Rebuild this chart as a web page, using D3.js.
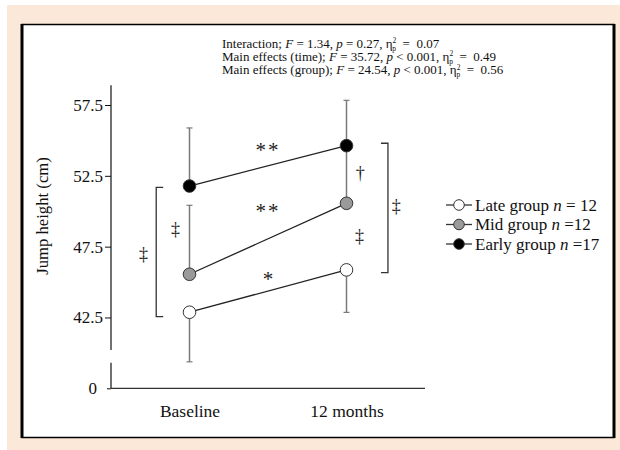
<!DOCTYPE html>
<html>
<head>
<meta charset="utf-8">
<script src="https://cdn.jsdelivr.net/npm/d3@7"></script>
<style>
  body { margin: 0; background: #fff; }
  svg text { font-family: "Liberation Serif", "Times New Roman", serif; fill: #111; }
</style>
</head>
<body>
<div id="chart"></div>
<script>
//Datos
const times = ['Baseline', '12 months'];
const groups = ['Late group', 'Mid group', 'Early group'];
const groupN = ['= 12', '=12', '=17'];
const lateMean = [42.87, 45.86], lateSD = [3.5, 3.0];
const midMean = [45.55, 50.56], midSD = [4.87, 4.3];
const earlyMean = [51.78, 54.63], earlySD = [4.1, 3.2];
const yTicks = [37.5, 42.5, 47.5, 52.5, 57.5];
const yTickLabels = ['0', '42.5', '47.5', '52.5', '57.5'];

//Anotaciones: f = posición relativa entre baseline (0) y 12 meses (1)
const marks = [
  {t: '**', f: 0.5, v: 54.3},
  {t: '**', f: 0.5, v: 50.0},
  {t: '*', f: 0.5, v: 45.25},
  {t: '‡', f: -0.293, v: 47.0},
  {t: '‡', f: -0.089, v: 48.75},
  {t: '†', f: 1.087, v: 52.7},
  {t: '‡', f: 1.083, v: 48.25},
  {t: '‡', f: 1.317, v: 50.35}
];
const brackets = [
  {f: -0.212, from: 51.69, to: 42.56, dir: 1},
  {f: 1.264, from: 54.8, to: 45.66, dir: -1}
];

const W = 620, H = 450;
const svg = d3.select('#chart').append('svg').attr('width', W).attr('height', H);

//Fondo y marco
svg.append('rect').attr('x', 7).attr('y', 5).attr('width', W - 7).attr('height', H - 5).attr('fill', '#FCE8D9');
svg.append('rect').attr('x', 22).attr('y', 24.5).attr('width', 592).attr('height', 413)
  .attr('fill', '#fff').attr('stroke', '#000').attr('stroke-width', 1.5);
svg.append('line').attr('x1', 22).attr('x2', 22).attr('y1', 24).attr('y2', 438).attr('stroke', '#000').attr('stroke-width', 3);
svg.append('line').attr('x1', 614).attr('x2', 614).attr('y1', 24).attr('y2', 438).attr('stroke', '#000').attr('stroke-width', 3);

//Escalas
const x = d3.scalePoint().domain(times).range([111, 425]).padding(0.5);
const y = d3.scaleLinear().domain([37.5, 57.5]).range([388.3, 105]);
const xf = f => x(times[0]) + f * (x(times[1]) - x(times[0]));

//Eje Y (con corte)
const yAxis = svg.append('g').attr('transform', 'translate(111,0)')
  .call(d3.axisLeft(y).tickValues(yTicks).tickSize(6).tickPadding(2)
    .tickFormat((d, i) => yTickLabels[i]));
yAxis.select('.domain').remove();
yAxis.selectAll('.tick line').attr('stroke', '#111');
yAxis.selectAll('.tick text').attr('font-size', 17).attr('font-family', '"Liberation Serif", serif').attr('fill', '#111');
yAxis.selectAll('.tick').filter(d => d === 37.5).select('text').attr('x', -14);
yAxis.selectAll('.tick').filter(d => d === 37.5).select('line').attr('x2', -4);
svg.append('line').attr('x1', 111).attr('x2', 111).attr('y1', y(58.9)).attr('y2', y(40.2)).attr('stroke', '#111').attr('stroke-width', 1.2);
svg.append('line').attr('x1', 111).attr('x2', 111).attr('y1', y(39.3)).attr('y2', y(37.5)).attr('stroke', '#111').attr('stroke-width', 1.2);

//Eje X
const xAxis = svg.append('g').attr('transform', 'translate(0,' + y(37.5) + ')')
  .call(d3.axisBottom(x).tickSize(0).tickPadding(16));
xAxis.select('.domain').remove();
xAxis.selectAll('.tick text').attr('font-size', 17.5).attr('font-family', '"Liberation Serif", serif').attr('fill', '#111');
svg.append('line').attr('x1', 111).attr('x2', 425).attr('y1', y(37.5)).attr('y2', y(37.5)).attr('stroke', '#333').attr('stroke-width', 1.2);

//Título eje Y
svg.append('text').attr('transform', 'translate(48,216) rotate(-90)')
  .attr('text-anchor', 'middle').attr('font-size', 16.7).text('Jump height (cm)');

//Series
const series = [
  {mean: lateMean, sd: lateSD, dir: -1, fill: '#fff'},
  {mean: midMean, sd: midSD, dir: 1, fill: '#9a9a9a'},
  {mean: earlyMean, sd: earlySD, dir: 1, fill: '#000'}
];

//Barras de error
series.forEach(s => {
  times.forEach((t, i) => {
    const top = s.mean[i] + s.dir * s.sd[i];
    svg.append('line').attr('x1', x(t)).attr('x2', x(t))
      .attr('y1', y(s.mean[i])).attr('y2', y(top)).attr('stroke', '#7a7a7a').attr('stroke-width', 1.5);
    svg.append('line').attr('x1', x(t) - 3).attr('x2', x(t) + 3)
      .attr('y1', y(top)).attr('y2', y(top)).attr('stroke', '#7a7a7a').attr('stroke-width', 1.2);
  });
});

//Líneas y puntos
const line = d3.line().x((d, i) => x(times[i])).y(d => y(d));
series.forEach(s => {
  svg.append('path').attr('d', line(s.mean)).attr('fill', 'none').attr('stroke', '#222').attr('stroke-width', 1.3);
});
series.forEach(s => {
  svg.selectAll(null).data(s.mean).enter().append('circle')
    .attr('cx', (d, i) => x(times[i])).attr('cy', d => y(d)).attr('r', 6.3)
    .attr('fill', s.fill).attr('stroke', '#333').attr('stroke-width', 1);
});

//Corchetes
brackets.forEach(b => {
  const bx = xf(b.f);
  svg.append('path')
    .attr('d', 'M' + (bx + 7 * b.dir) + ',' + y(b.from) + 'H' + bx + 'V' + y(b.to) + 'H' + (bx + 7 * b.dir))
    .attr('fill', 'none').attr('stroke', '#333').attr('stroke-width', 1.3);
});

//Significancias
svg.selectAll(null).data(marks).enter().append('text')
  .attr('x', d => xf(d.f)).attr('y', d => y(d.v))
  .attr('text-anchor', 'middle').attr('dominant-baseline', 'central')
  .attr('font-size', d => d.t === '*' || d.t === '**' ? 21 : 18)
  .attr('letter-spacing', d => d.t === '**' ? 2 : 0)
  .style('fill', '#222')
  .text(d => d.t);

//Leyenda
const legend = svg.append('g').attr('transform', 'translate(459,205)');
groups.forEach((g, i) => {
  const row = legend.append('g').attr('transform', 'translate(0,' + i * 19.5 + ')');
  row.append('line').attr('x1', -13).attr('x2', 13).attr('stroke', '#333').attr('stroke-width', 1.3);
  row.append('circle').attr('r', 5.3).attr('fill', series[i].fill).attr('stroke', '#333');
  const t = row.append('text').attr('x', 16).attr('dy', '0.35em').attr('font-size', 17);
  t.append('tspan').text(g + ' ');
  t.append('tspan').attr('font-style', 'italic').text('n');
  t.append('tspan').text(' ' + groupN[i]);
});

//Estadísticos
const stats = [
  ['Interaction; ', '1.34', '= 0.27', '0.07'],
  ['Main effects (time); ', '35.72', '< 0.001', '0.49'],
  ['Main effects (group); ', '24.54', '< 0.001', '0.56']
];
stats.forEach((s, i) => {
  const t = svg.append('text').attr('x', 222).attr('y', 47.5 + i * 13.4)
    .attr('font-size', 13).style('white-space', 'pre');
  t.append('tspan').text(s[0]);
  t.append('tspan').attr('font-style', 'italic').text('F');
  t.append('tspan').text(' = ' + s[1] + ', ');
  t.append('tspan').attr('font-style', 'italic').text('p');
  t.append('tspan').text(' ' + s[2] + ', η');
  t.append('tspan').attr('font-size', 7.5).attr('dy', -4.5).text('2');
  t.append('tspan').attr('font-size', 7.5).attr('dx', -4).attr('dy', 7.5).text('p');
  t.append('tspan').attr('dy', -3).text('  =  ' + s[3]);
});
</script>
</body>
</html>
